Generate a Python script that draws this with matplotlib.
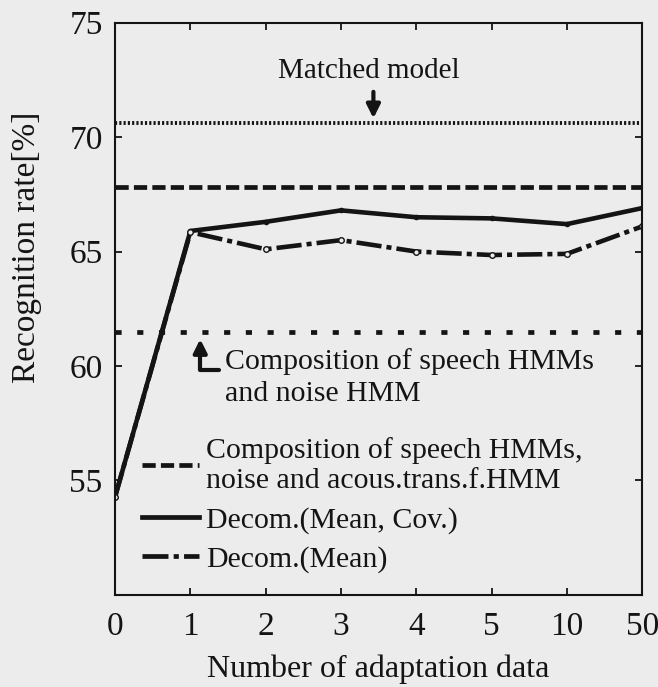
import numpy as np
import matplotlib.pyplot as plt
from matplotlib.lines import Line2D

# categories on the x axis (evenly spaced)
xLabels = ["0", "1", "2", "3", "4", "5", "10", "50"]
decomMeanCov = [54.3, 65.9, 66.3, 66.8, 66.5, 66.45, 66.2, 66.9]
decomMean = [54.3, 65.85, 65.1, 65.5, 65.0, 64.85, 64.9, 66.1]
matchedModel = 70.6
compSpeechNoiseTrans = 67.8
compSpeechNoise = 61.5

bg = '#ececec'
ink = '#141414'
plt.rcParams['font.family'] = ['Liberation Serif', 'DejaVu Serif']

fig = plt.figure(figsize=(6.58, 6.87), dpi=100, facecolor=bg)
ax = fig.add_axes([0.175, 0.134, 0.801, 0.833], facecolor=bg)

x = np.arange(len(xLabels))

dashDash = (2.8, 1.1)
dashDot = (5.5, 1.1, 1.1, 1.1)

ax.axhline(matchedModel, color=ink, lw=2.8, dashes=(0.55, 0.55))
ax.axhline(compSpeechNoiseTrans, color=ink, lw=3.4, dashes=dashDash)
ax.axhline(compSpeechNoise, color=ink, lw=3.4, dashes=(1.3, 3.3))

ax.plot(x, decomMeanCov, color=ink, lw=3.3, marker='o', markersize=3)
ax.plot(x, decomMean, color=ink, lw=3.3, dashes=dashDot,
        marker='o', markersize=4, markerfacecolor=bg)

ax.set_xlim(0, 7)
ax.set_ylim(50, 75)
ax.set_xticks(x)
ax.set_xticklabels(xLabels)
ax.set_yticks([55, 60, 65, 70, 75])
ax.tick_params(direction='in', length=5, width=1.3, top=True, right=True,
               labelsize=24, colors=ink, pad=9)
ax.tick_params(axis='x', pad=12)
for s in ax.spines.values():
    s.set_linewidth(1.5)
    s.set_color(ink)

ax.set_xlabel("Number of adaptation data", fontsize=23, color=ink, labelpad=9)
ax.set_ylabel("Recognition rate[%]", fontsize=24, color=ink)
ax.yaxis.set_label_coords(-0.138, 0.608)

# annotations
ax.text(3.37, 72.9, "Matched model", fontsize=21, color=ink, ha='center', va='center')
ax.annotate("", xy=(3.43, 70.7), xytext=(3.43, 72.1),
            arrowprops=dict(arrowstyle='-|>,head_width=0.4,head_length=0.8',
                            color=ink, lw=3))
ax.annotate("", xy=(1.13, 61.3), xytext=(1.42, 59.83),
            arrowprops=dict(arrowstyle='-|>,head_width=0.4,head_length=0.8',
                            color=ink, lw=3,
                            connectionstyle="angle,angleA=0,angleB=90,rad=0"))
ax.text(1.46, 59.5, "Composition of speech HMMs\nand noise HMM", fontsize=21.5,
        color=ink, ha='left', va='center', linespacing=1.3)

handles = [Line2D([], [], color=ink, lw=3.4, dashes=dashDash),
           Line2D([], [], color=ink, lw=3.4),
           Line2D([], [], color=ink, lw=3.4, dashes=dashDot)]
labels = ["Composition of speech HMMs,\nnoise and acous.trans.f.HMM",
          "Decom.(Mean, Cov.)", "Decom.(Mean)"]
ax.legend(handles, labels, loc='lower left', bbox_to_anchor=(0.028, 0.018),
          frameon=False, fontsize=21.5, handlelength=1.9, handletextpad=0.25,
          labelspacing=0.4, labelcolor=ink, borderaxespad=0)

fig.savefig("out.png", dpi=100, facecolor=bg)
